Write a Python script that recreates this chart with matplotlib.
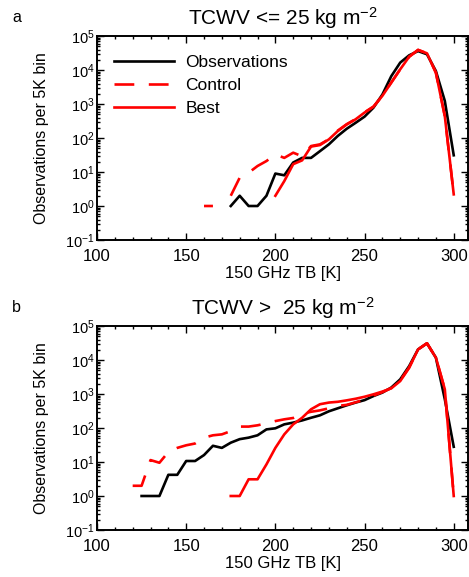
import numpy as np
import matplotlib
matplotlib.use("Agg")
import matplotlib.pyplot as plt
from matplotlib.ticker import MultipleLocator, LogLocator, NullFormatter

nan = np.nan

# panel a: TCWV <= 25
a_obs_start = 175
a_obs = [1, 2, 1, 1, 2, 9, 8, 19, 26, 26, 41, 65, 115, 187, 280,
         425, 780, 1900, 6600, 16500, 27000, 36000, 29000, 9300, 1230, 31]
a_ctrl_start = 160
a_ctrl = [1, 1, nan, 2, 6.8, 9.5, 15, 21, 33, 26, 37, 29, 58, 65, 92,
          165, 255, 360, 570, 840, 1750, 4300, 10500, 24500, 39000,
          31000, 8300, 440, 2.2]
a_best_start = 200
a_best = [2, 5.4, 17, 22, 56, 62, 91, 160, 250, 355, 560, 830, 1740,
          4260, 10500, 24500, 39000, 31000, 8300, 440, 2.2]

# panel b: TCWV > 25
b_obs_start = 125
b_obs = [1, 1, 1, 4.2, 4.2, 10.7, 10.7, 16, 30, 26, 37, 47, 52, 61, 91,
         98, 128, 144, 167, 200, 236, 310, 380, 465, 560, 660, 870, 1100,
         1550, 2700, 6600, 20500, 31000, 11700, 700, 28]
b_ctrl_start = 120
b_ctrl = [2, 2, 11.4, 9.5, 19.7, 26, 31, 35, 52, 61, 65, 81, 110, 110, 120,
          137, 160, 180, 197, 263, 300, 330, 380, 445, 480, 570, 680, 900,
          1130, 1500, 2500, 6000, 20500, 31000, 11700, 1380, 1]
b_best_start = 175
b_best = [1, 1, 3.1, 3.1, 8.5, 26, 65, 128, 200, 355, 500, 560, 590, 650,
          725, 830, 980, 1180, 1470, 2400, 5900, 20500, 31000, 11700, 1380, 1]

titles = ["TCWV <= 25 kg m$^{-2}$", "TCWV >  25 kg m$^{-2}$"]
letters = ["a", "b"]

plt.rcParams["font.family"] = ["Liberation Sans", "DejaVu Sans"]
plt.rcParams["mathtext.fontset"] = "custom"
plt.rcParams["mathtext.rm"] = "Liberation Sans"
plt.rcParams["mathtext.it"] = "Liberation Sans:italic"
plt.rcParams["mathtext.bf"] = "Liberation Sans:bold"

W, H = 469, 577
fig = plt.figure(figsize=(W / 100, H / 100), dpi=100)


def tb(start, vals):
    return start + 5 * np.arange(len(vals))


panels = [
    (36, (a_obs_start, a_obs), (a_ctrl_start, a_ctrl), (a_best_start, a_best)),
    (326, (b_obs_start, b_obs), (b_ctrl_start, b_ctrl), (b_best_start, b_best)),
]

left, right = 97, 468
ax_h = 204
for i, (top, obs, ctrl, best) in enumerate(panels):
    ax = fig.add_axes([left / W, 1 - (top + ax_h) / H, (right - left) / W, ax_h / H])
    lw = 1.9
    ax.plot(tb(*obs), obs[1], color="black", lw=lw, label="Observations")
    ax.plot(tb(*ctrl), ctrl[1], color="red", lw=lw, dashes=(7.5, 5.5), label="Control")
    ax.plot(tb(*best), best[1], color="red", lw=lw, label="Best")
    ax.set_yscale("log")
    ax.set_xlim(100, 308)
    ax.set_ylim(0.1, 1e5)
    ax.xaxis.set_major_locator(MultipleLocator(50))
    ax.xaxis.set_minor_locator(MultipleLocator(10))
    ax.yaxis.set_major_locator(LogLocator(base=10, numticks=10))
    ax.yaxis.set_minor_locator(LogLocator(base=10, subs=np.arange(2, 10), numticks=20))
    ax.yaxis.set_minor_formatter(NullFormatter())
    ax.tick_params(which="both", direction="in", top=True, right=True, width=1.0)
    ax.tick_params(which="major", length=5)
    ax.tick_params(which="minor", length=2.5)
    ax.tick_params(axis="x", which="major", labelsize=12, pad=6.5)
    ax.tick_params(axis="y", which="major", labelsize=10.5, pad=1.5)
    for s in ax.spines.values():
        s.set_linewidth(1.4)
    ax.set_xlabel("150 GHz TB [K]", fontsize=12)
    ax.xaxis.set_label_coords(0.5, (240 - 266) / ax_h)
    ax.set_ylabel("Observations per 5K bin", fontsize=11.5)
    ax.yaxis.set_label_coords((49 - left) / (right - left), 0.5)
    ax.text(0.5, 1 + 18 / ax_h, titles[i], transform=ax.transAxes,
            ha="center", va="center", fontsize=15)
    fig.text(12 / W, 1 - (top - 19) / H, letters[i], ha="left", va="center", fontsize=11.5)
    if i == 0:
        ax.legend(loc="upper left", frameon=False, fontsize=12.5,
                  handlelength=3.45, handletextpad=0.69, labelspacing=0.44,
                  borderaxespad=0.3, bbox_to_anchor=(0.012, 0.965))

fig.savefig("out.png", dpi=100)
